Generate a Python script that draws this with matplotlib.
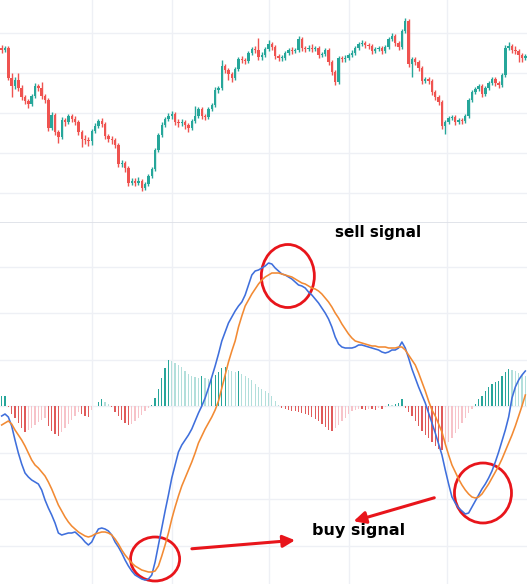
import numpy as np
import matplotlib
matplotlib.use("Agg")
import matplotlib.pyplot as plt
from matplotlib.patches import Ellipse

# price candles (arbitrary price units, no axis labels on the chart)
opens = [182,180,182,152,144,150,142,133,129,126,
         134,144,142,134,130,102,115,98,93,110,
         108,114,111,108,98,91,90,89,99,104,
         109,106,94,91,90,85,66,67,62,47,
         49,47,49,42,46,54,61,80,95,105,
         111,114,116,108,107,108,105,102,109,114,
         121,114,113,121,125,140,142,164,160,156,
         152,161,171,170,169,177,181,180,173,175,
         181,186,183,174,172,172,177,180,179,180,
         191,182,181,182,181,182,175,176,180,168,
         158,148,172,171,172,175,177,182,186,187,
         185,184,179,181,182,179,183,191,194,187,
         183,199,209,166,171,168,162,149,151,149,
         138,133,128,104,108,112,113,108,110,109,
         114,130,138,141,144,136,142,147,151,147,
         145,155,182,184,180,179,175,172]
closes = [180,182,152,144,150,142,133,129,126,134,
          144,142,134,130,102,115,98,93,110,108,
          114,111,108,98,91,90,89,99,104,109,
          106,94,91,90,85,66,67,62,47,49,
          47,49,42,46,54,61,80,95,105,111,
          114,116,108,107,108,105,102,109,114,121,
          114,113,121,125,140,142,164,160,156,152,
          161,171,170,169,177,181,180,173,175,181,
          186,183,174,172,172,177,180,179,180,191,
          182,181,182,181,182,175,176,180,168,158,
          148,172,171,172,175,177,182,186,187,185,
          184,179,181,182,179,183,191,194,187,183,
          199,209,166,171,168,162,149,151,149,138,
          133,128,104,108,112,113,108,110,109,114,
          130,138,141,144,136,142,147,151,147,145,
          155,182,184,180,179,175,172,174]
highs = [185,184,184,157,153,157,145,135,131,136,
         147,146,148,136,132,118,117,100,113,112,
         116,116,114,110,100,95,93,101,107,111,
         112,108,96,94,92,87,70,69,64,52,
         52,53,51,48,56,63,82,97,108,113,
         117,119,118,111,111,110,107,111,124,123,
         123,116,123,127,143,144,170,166,162,158,
         163,173,174,172,179,183,184,192,178,183,
         190,188,185,176,175,179,182,183,182,194,
         193,184,185,186,184,184,178,182,182,170,
         160,174,174,175,177,180,184,188,190,189,
         187,186,183,184,184,185,193,197,196,189,
         201,212,211,173,173,170,164,153,153,151,
         140,135,130,110,114,115,115,112,112,116,
         132,140,143,146,146,144,149,153,153,149,
         157,185,188,186,184,181,177,176]
lows = [177,178,150,133,141,139,130,126,122,124,
        132,139,131,127,99,100,95,87,91,104,
        106,108,105,95,83,86,84,85,97,102,
        103,91,88,86,82,63,63,58,44,45,
        44,45,39,40,44,52,59,78,93,103,
        109,111,105,103,104,101,98,100,107,112,
        111,110,111,119,123,137,140,157,150,148,
        150,159,167,166,167,175,177,170,170,173,
        179,180,171,169,169,170,175,176,177,178,
        179,178,179,178,179,172,173,174,165,155,
        145,146,168,168,170,173,175,180,184,182,
        181,176,177,179,176,177,181,189,184,180,
        181,197,163,153,165,159,146,147,146,135,
        130,125,101,96,106,110,105,106,106,107,
        112,128,136,139,133,134,140,145,144,142,
        143,153,180,177,176,168,168,170]

# MACD panel
macd = [-10,-8,-11,-20,-34,-47,-58,-67,-71,-74,
        -76,-78,-84,-94,-102,-109,-117,-127,-129,-128,
        -127,-127,-126,-129,-132,-136,-139,-136,-129,-123,
        -122,-123,-125,-129,-136,-141,-147,-154,-160,-165,
        -169,-171,-173,-174,-173,-169,-156,-139,-122,-105,
        -89,-72,-59,-46,-39,-34,-29,-23,-15,-7,
        0,8,18,29,40,52,65,74,83,89,
        95,100,104,111,121,131,135,136,138,140,
        143,142,138,135,132,131,129,127,124,121,
        120,118,114,111,107,103,98,93,87,79,
        69,62,59,58,58,58,59,61,61,60,
        59,58,57,56,54,53,54,56,56,58,
        64,58,48,37,28,19,11,3,-7,-17,
        -27,-38,-49,-64,-78,-91,-97,-102,-105,-108,
        -107,-101,-95,-89,-83,-78,-72,-65,-56,-46,
        -35,-24,-11,8,19,26,31,35]
signal = [-19,-17,-15,-18,-24,-29,-34,-40,-47,-54,
          -59,-62,-66,-70,-76,-83,-91,-99,-105,-111,
          -116,-120,-123,-126,-128,-130,-131,-130,-128,-127,
          -126,-126,-127,-129,-133,-138,-144,-149,-153,-157,
          -160,-162,-164,-165,-166,-166,-165,-160,-150,-139,
          -127,-113,-101,-90,-80,-72,-64,-56,-47,-37,
          -30,-23,-17,-11,-4,5,18,31,44,55,
          65,79,90,100,106,112,117,122,126,129,
          131,133,133,133,132,131,130,129,127,125,
          123,122,120,118,117,115,112,108,104,99,
          93,88,82,77,72,68,65,64,63,62,
          61,60,60,59,59,59,58,58,58,59,
          59,56,51,46,41,33,24,15,5,-4,
          -10,-18,-26,-38,-49,-59,-66,-73,-79,-84,
          -88,-91,-92,-91,-88,-83,-78,-72,-66,-60,
          -53,-45,-37,-29,-20,-10,0,11]
hist = [10,10,-1,-8,-12,-17,-22,-26,-24,-22,
        -19,-16,-14,-12,-20,-25,-28,-30,-26,-22,
        -18,-14,-10,-6,-8,-10,-11,-4,0,4,
        7,4,2,-1,-6,-10,-14,-17,-19,-18,
        -15,-12,-9,-5,-2,1,8,17,28,38,
        46,45,43,41,39,35,32,30,29,28,
        30,28,27,29,31,34,38,39,36,35,
        34,35,32,30,28,26,22,19,17,15,
        13,10,5,1,-2,-3,-4,-5,-5,-6,
        -7,-8,-9,-11,-13,-15,-18,-21,-24,-25,
        -22,-19,-15,-12,-8,-5,-4,-3,-3,-4,
        -3,-3,-4,-2,-3,-1,2,1,2,3,
        7,-2,-6,-10,-15,-20,-25,-29,-32,-36,
        -40,-43,-44,-40,-36,-32,-27,-23,-17,-12,
        -7,-3,2,7,10,15,19,22,24,25,
        30,34,37,36,35,33,31,30]

# time grid positions (bar index)
time_grid = [27.1, 51.1, 80.2, 104.1, 133.5]

UP = "#26a69a"
DOWN = "#ef5350"
GRID = "#eef0f5"

n = len(closes)
x = np.arange(n)
o = np.array(opens, dtype=float)
c = np.array(closes, dtype=float)
h = np.array(highs, dtype=float)
l = np.array(lows, dtype=float)

fig = plt.figure(figsize=(5.27, 5.84), dpi=100)
ax1 = fig.add_axes([0, 361 / 584, 1, 223 / 584])
ax2 = fig.add_axes([0, 0, 1, 361 / 584])

for ax in (ax1, ax2):
    ax.set_xlim(-0.5, n - 0.5)
    ax.set_xticks(time_grid)
    ax.tick_params(length=0, labelbottom=False, labelleft=False)
    ax.grid(True, color=GRID, lw=1)
    ax.set_axisbelow(True)
    for s in ax.spines.values():
        s.set_visible(False)

# candles
ax1.set_ylim(7, 230)
ax1.set_yticks([37, 77, 117, 157, 197])
col = np.where(c >= o, UP, DOWN)
ax1.vlines(x, l, h, colors=col, lw=1)
body = np.maximum(np.abs(c - o), 1.0)
ax1.bar(x, body, bottom=np.minimum(o, c), width=0.72, color=col, linewidth=0)
ax1.axhline(7.5, color="#dcdfe6", lw=1.2)

# MACD
ax2.set_ylim(-178, 183)
ax2.set_yticks([-139.5, -93, -46.5, 0, 46.5, 93, 139.5])
hv = np.array(hist, dtype=float)
hcol = []
for i, v in enumerate(hv):
    prev = hv[i - 1] if i > 0 else v
    if v >= 0:
        hcol.append("#26a69a" if v >= prev else "#b2dfdb")
    else:
        hcol.append("#f7c3c9" if v > prev else "#e05a5a")
ax2.bar(x, hv, width=0.38, color=hcol, linewidth=0)
ax2.plot(x, macd, color="#3f6fdc", lw=1.15)
ax2.plot(x, signal, color="#f28a33", lw=1.15)

# annotations
red = "#e8151b"
for cx, cy, w, hh in [(85.8, 130, 15.9, 63), (46.0, -153, 14.7, 44), (144.3, -87, 17.1, 60)]:
    ax2.add_patch(Ellipse((cx, cy), w, hh, fill=False, ec=red, lw=2))

ax2.annotate("", xy=(88.8, -134), xytext=(56.2, -143),
             arrowprops=dict(arrowstyle="-|>", color=red, lw=2.2, mutation_scale=18))
ax2.annotate("", xy=(104.7, -116), xytext=(130.5, -91),
             arrowprops=dict(arrowstyle="-|>", color=red, lw=2.2, mutation_scale=18))

ax2.text(112.8, 174, "sell signal", ha="center", va="center",
         fontsize=11, fontweight="bold", color="black")
ax2.text(107.1, -124, "buy signal", ha="center", va="center",
         fontsize=11.5, fontweight="bold", color="black")

fig.savefig("out.png", dpi=100)
